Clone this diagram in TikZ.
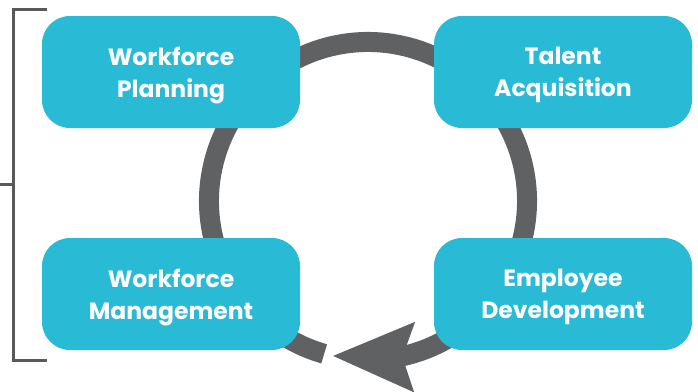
\documentclass[tikz,border=0pt]{standalone}
\usepackage{fontspec}
\newfontfamily\boxfont{Poppins}
\usetikzlibrary{arrows.meta,bending,positioning}
\definecolor{tealbox}{HTML}{29BBD6}
\definecolor{ringgray}{HTML}{606163}
\definecolor{bracegray}{HTML}{58595B}

\begin{document}
\begin{tikzpicture}[
    x=1pt, y=-1pt,
    node distance=110pt and 134pt,
    stage/.style={rectangle, rounded corners=28pt, fill=tealbox, text=white,
        minimum width=258pt, minimum height=112pt, outer sep=0pt, align=center,
        text depth=0pt, font=\boxfont\bfseries\fontsize{23.5}{32}\selectfont},
    ring/.style={ringgray, line width=20pt,
        -{Stealth[length=80pt, width=66pt, inset=10pt]}},
    bracket/.style={bracegray, line width=3pt}
]
    \useasboundingbox (0,0) rectangle (698,391);

    % the cycle behind the boxes
    \coordinate (hub) at (368,201);
    \draw [ring] ([shift={(106:159)}]hub) arc [start angle=106, end angle=463, radius=159];

    \node [stage] (wfplan) at (171,72) {Workforce\\Planning};
    \node [stage, right=of wfplan] (talent) {Talent\\Acquisition};
    \node [stage, below=of wfplan] (wfmgmt) {Workforce\\Management};
    \node [stage, below=of talent] (empdev) {Employee\\Development};

    % bracket on the left
    \coordinate (btop) at (47,9);
    \coordinate (bbot) at (47,360);
    \coordinate (bmid) at (13,184);
    \draw [bracket] (btop) -| (bbot -| bmid) -- (bbot);
    \draw [bracket] (bmid) -- (0,184);
\end{tikzpicture}
\end{document}
